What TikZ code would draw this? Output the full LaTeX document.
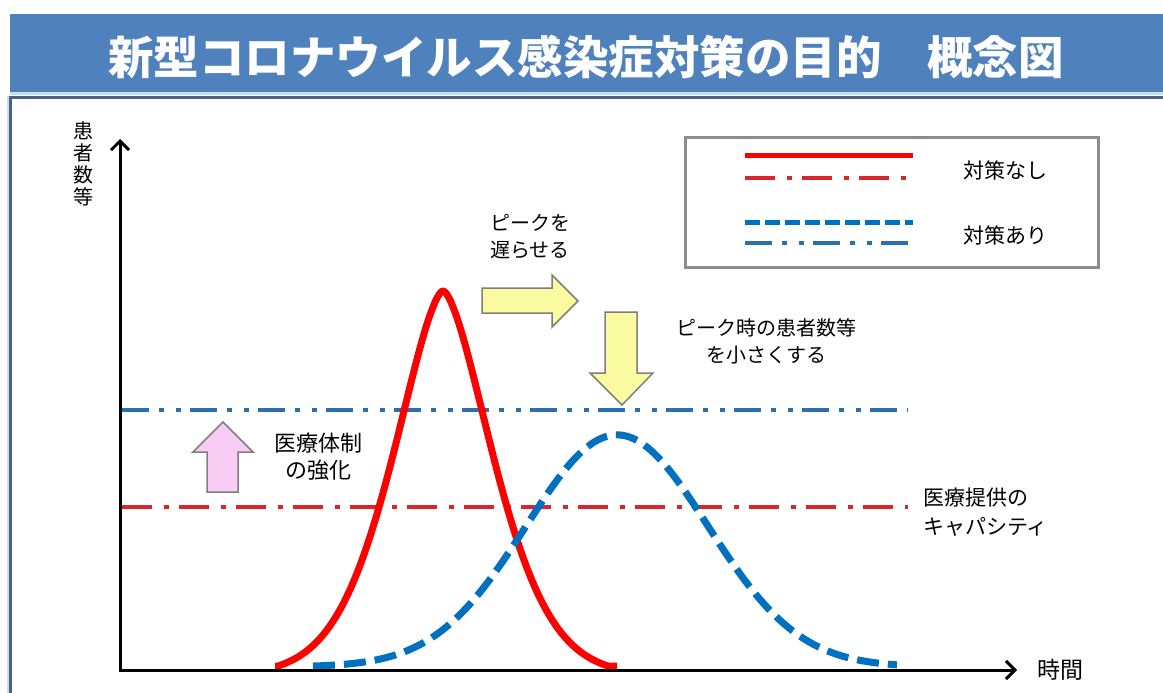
\documentclass[tikz,border=0pt]{standalone}
\usepackage{fontspec}
\setmainfont{Noto Sans CJK JP}
\usetikzlibrary{arrows.meta}
\definecolor{titleblue}{HTML}{4F81BD}
\definecolor{framedark}{HTML}{4B6286}
\definecolor{framelight}{HTML}{BFE3EE}
\definecolor{curvered}{HTML}{FF0000}
\definecolor{linered}{HTML}{D9262B}
\definecolor{curveblue}{HTML}{0070C0}
\definecolor{lineblue}{HTML}{2A6FB0}
\definecolor{arrowyellow}{HTML}{FAFAA0}
\definecolor{arrowpink}{HTML}{F8CCF5}
\definecolor{arrowedge}{HTML}{7F7F7F}
\definecolor{legendedge}{HTML}{8C8C8C}
\begin{document}
\begin{tikzpicture}[x=1pt,y=-1pt,
  txt/.style={inner sep=0pt, text=black, font=\fontsize{20}{27}\selectfont},
  reddashdot/.style={linered, line width=4pt, dash pattern=on 30pt off 12pt on 5pt off 10pt},
  bluedashdotdot/.style={lineblue, line width=4pt, dash pattern=on 27pt off 10pt on 5pt off 12pt on 5pt off 9pt},
  bigarrow/.style={draw=arrowedge, line width=1.5pt, line join=miter},
  axisline/.style={black, line width=3pt, line join=miter, {Straight Barb[length=9pt,width=18pt]}-{Straight Barb[length=9pt,width=18pt]}}
]
\useasboundingbox (0,0) rectangle (1163,693);
\fill[white] (0,0) rectangle (1163,693);

% title bar and frame
\fill[titleblue] (10,14) rectangle (1163,92);
\fill[framelight] (10,92) rectangle (1163,95);
\draw[framelight, line width=1.5pt] (8.2,96) -- (8.2,693);
\draw[framedark, line width=3pt] (10.5,693) -- (10.5,97.5) -- (1163,97.5);
\node[inner sep=0pt, text=white, font=\fontsize{45.5}{46}\selectfont\bfseries] (title) at (586,57) {新型コロナウイルス感染症対策の目的　概念図};

% legend
\draw[legendedge, line width=3pt] (685,137) rectangle (1098,267);
\coordinate (l1a) at (745,155); \coordinate (l1b) at (913,155);
\coordinate (l2a) at (745,178); \coordinate (l2b) at (913,178);
\coordinate (l3a) at (745,222); \coordinate (l3b) at (913,222);
\coordinate (l4a) at (745,243); \coordinate (l4b) at (913,243);
\draw[curvered, line width=5pt] (l1a) -- (l1b);
\draw[reddashdot] (l2a) -- (l2b);
\draw[curveblue, line width=5pt, dash pattern=on 15pt off 5pt] (l3a) -- (l3b);
\draw[bluedashdotdot] (l4a) -- (l4b);
\node[txt, font=\fontsize{21}{27}\selectfont] (lnone) at (1005,170) {対策なし};
\node[txt, font=\fontsize{21}{27}\selectfont] (lwith) at (1005,235) {対策あり};

% horizontal capacity lines
\coordinate (hb0) at (122,410); \coordinate (hb1) at (908,410);
\coordinate (hr0) at (122,507); \coordinate (hr1) at (908,507);
\draw[bluedashdotdot] (hb0) -- (hb1);
\draw[reddashdot] (hr0) -- (hr1);

% curves
\draw[curvered, line width=7pt, line join=round] (275,666) -- plot[domain=-165:165, samples=150]
  ({443+\x},{666-384*(exp(-1*((abs(\x)+0.01)/72)^1.6)-0.023)}) -- (617,666);
\draw[curveblue, line width=7pt, dash pattern=on 22pt off 9pt] plot[domain=-304:280, samples=150]
  ({617+\x},{665.5-232*(exp(-0.5*(\x/91)^2)-0.006)});

% axes
\coordinate (ytop) at (120,139);
\coordinate (orig) at (120,670);
\coordinate (xend) at (1017,670);
\draw[axisline] (ytop) -- (orig) -- (xend);
\node[txt, font=\fontsize{20}{22}\selectfont, align=center] (ylabel) at (83,164) {患\\者\\数\\等};
\node[txt, font=\fontsize{23}{23}\selectfont] (xlabel) at (1060,670) {時間};

% block arrows
\draw[bigarrow, fill=arrowyellow] (482,288) -- (552,288) -- (552,275) -- (578,301) -- (552,327) -- (552,313) -- (482,313) -- cycle;
\draw[bigarrow, fill=arrowyellow] (605,312) -- (637,312) -- (637,373) -- (653,373) -- (622,405) -- (590,373) -- (605,373) -- cycle;
\draw[bigarrow, fill=arrowpink] (207,492) -- (238,492) -- (238,452) -- (253,452) -- (223,422) -- (193,452) -- (207,452) -- cycle;

% labels
\node[txt, anchor=west, align=left] (delay) at (490,236.5) {ピークを\\遅らせる};
\node[txt, align=center] (reduce) at (766,341) {ピーク時の患者数等\\を小さくする};
\node[txt, font=\fontsize{22}{27}\selectfont, align=center] (strength) at (318,456.5) {医療体制\\の強化};
\node[txt, font=\fontsize{21}{29}\selectfont, anchor=west, align=left] (capacity) at (923,512) {医療提供の\\キャパシティ};
\end{tikzpicture}
\end{document}
